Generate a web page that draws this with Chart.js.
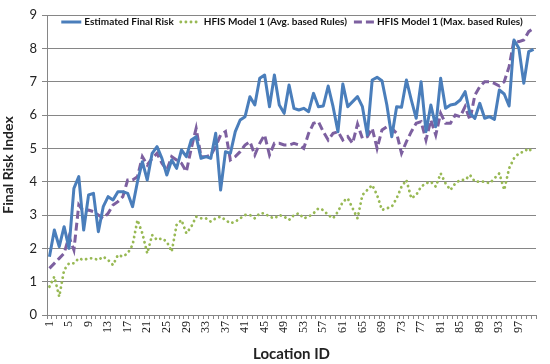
<!DOCTYPE html>
<html>
<head>
<meta charset="utf-8">
<script src="https://cdn.jsdelivr.net/npm/chart.js@4.4.1/dist/chart.umd.min.js"></script>
<style>
    html, body { margin: 0; padding: 0; background: #fff; }
    #wrap { width: 550px; height: 364px; }
</style>
</head>
<body>
<div id="wrap"><canvas id="riskChart" width="550" height="364"></canvas></div>
<script>
// Location IDs (x categories)
const locationIds = [
    '1', '2', '3', '4', '5', '6', '7', '8', '9', '10', '11', '12', '13', '14', '15', '16', '17', '18', '19', '20',
    '21', '22', '23', '24', '25', '26', '27', '28', '29', '30', '31', '32', '33', '34', '35', '36', '37', '38', '39', '40',
    '41', '42', '43', '44', '45', '46', '47', '48', '49', '50', '51', '52', '53', '54', '55', '56', '57', '58', '59', '60',
    '61', '62', '63', '64', '65', '66', '67', '68', '69', '70', '71', '72', '73', '74', '75', '76', '77', '78', '79', '80',
    '81', '82', '83', '84', '85', '86', '87', '88', '89', '90', '91', '92', '93', '94', '95', '96', '97', '98', '99', '100'
];

const estimatedRisk = [
    1.75, 2.55, 2.05, 2.65, 2.0, 3.8, 4.15, 2.55, 3.6, 3.65,
    2.5, 3.25, 3.55, 3.45, 3.7, 3.7, 3.65, 3.25, 4.0, 4.6,
    4.05, 4.85, 5.05, 4.7, 4.2, 4.65, 4.4, 4.95, 4.75, 5.25,
    5.35, 4.7, 4.75, 4.7, 5.45, 3.75, 4.9, 4.85, 5.5, 5.85,
    5.95, 6.55, 6.3, 7.1, 7.2, 6.25, 7.2, 6.3, 6.05, 6.9,
    6.2, 6.15, 6.2, 6.1, 6.65, 6.25, 6.27, 6.87, 6.25, 5.5,
    6.93, 6.25, 6.4, 6.55, 6.25, 5.4, 7.05, 7.13, 7.03, 6.3,
    5.35, 6.25, 6.23, 7.05, 6.45, 5.9, 7.0, 5.5, 6.3, 5.65,
    7.1, 6.2, 6.3, 6.33, 6.45, 6.7, 6.05, 5.9, 6.35, 5.9,
    5.95, 5.87, 6.75, 6.63, 6.27, 8.25, 8.0, 6.95, 7.9, 7.97
];

const hfisAvg = [
    0.85, 1.15, 0.55, 1.35, 1.55, 1.55, 1.7, 1.65, 1.7, 1.7,
    1.65, 1.75, 1.65, 1.5, 1.8, 1.75, 1.85, 2.1, 2.85, 2.45,
    1.85, 2.4, 2.25, 2.3, 2.2, 1.9, 2.7, 2.85, 2.45, 2.65,
    2.95, 2.9, 2.9, 2.8, 2.9, 2.95, 2.85, 2.75, 2.8, 2.9,
    3.0, 3.0, 2.9, 3.05, 3.05, 2.95, 2.9, 3.0, 2.95, 2.85,
    3.0, 3.05, 2.9, 2.95, 3.05, 3.2, 3.15, 3.0, 2.9, 3.1,
    3.4, 3.5, 3.2, 2.9, 3.6, 3.75, 3.9, 3.6, 3.15, 3.2,
    3.25, 3.5, 3.85, 4.05, 3.5, 3.6, 3.85, 3.95, 4.0, 3.85,
    4.25, 3.95, 3.75, 3.95, 4.05, 4.05, 4.2, 4.0, 4.0, 4.0,
    3.95, 4.1, 4.25, 3.75, 4.4, 4.7, 4.85, 4.9, 5.0, 4.85
];

const hfisMax = [
    1.4, 1.55, 1.7, 1.85, 2.35, 1.95, 3.3, 3.1, 3.15, 3.1,
    3.0, 2.9, 3.05, 3.3, 3.4, 3.55, 4.05, 4.05, 4.15, 4.75,
    4.5, 4.7, 4.85, 4.55, 4.35, 4.75, 4.65, 4.55, 4.3, 5.0,
    5.6, 4.75, 4.75, 4.8, 5.05, 5.4, 5.5, 4.65, 4.75, 4.9,
    5.1, 5.2, 4.8, 5.15, 5.4, 4.8, 5.15, 5.15, 5.1, 5.1,
    5.15, 5.1, 5.0, 5.45, 5.75, 5.8, 5.5, 5.25, 5.45, 5.5,
    5.25, 5.35, 5.15, 5.73, 5.3, 5.35, 5.6, 5.0, 5.55, 5.65,
    5.6, 5.45, 4.85, 5.2, 5.5, 5.75, 5.8, 5.25, 5.85, 5.4,
    6.05, 5.75, 5.75, 6.0, 5.95, 6.25, 5.85, 6.6, 6.85, 7.0,
    7.0, 6.95, 6.87, 7.0, 7.45, 8.25, 8.2, 8.25, 8.5, 8.6
];

const seriesNames = [
    'Estimated Final Risk',
    'HFIS Model 1 (Avg. based Rules)',
    'HFIS Model 1 (Max. based Rules)'
];

const yTicks = [0, 1, 2, 3, 4, 5, 6, 7, 8, 9];

// Legend drawn inside the plot, centred along the top
const insideLegend = {
    id: 'insideLegend',
    afterDraw(chart) {
        const ctx = chart.ctx;
        const area = chart.chartArea;
        const sample = 22, textGap = 2, itemGap = 6;
        ctx.save();
        ctx.font = 'bold 10px Lato';
        const items = chart.data.datasets.map(ds => ({
            ds,
            w: sample + textGap + ctx.measureText(ds.label).width
        }));
        const total = items.reduce((a, it) => a + it.w, 0) + itemGap * (items.length - 1);
        let x = (area.left + area.right) / 2 - total / 2;
        const y = area.top + 7;
        items.forEach(it => {
            ctx.strokeStyle = it.ds.borderColor;
            ctx.lineWidth = it.ds.borderWidth;
            ctx.lineCap = it.ds.borderCapStyle || 'butt';
            ctx.setLineDash(it.ds.borderDash || []);
            ctx.beginPath();
            ctx.moveTo(x + 1, y);
            ctx.lineTo(x + sample - 1, y);
            ctx.stroke();
            ctx.setLineDash([]);
            ctx.fillStyle = '#111';
            ctx.textBaseline = 'middle';
            ctx.textAlign = 'left';
            ctx.fillText(it.ds.label, x + sample + textGap, y);
            x += it.w + itemGap;
        });
        ctx.restore();
    }
};

const ctx = document.getElementById('riskChart').getContext('2d');
new Chart(ctx, {
    type: 'line',
    data: {
        labels: locationIds,
        datasets: [{
            label: seriesNames[0],
            data: estimatedRisk,
            borderColor: '#4A7EBB',
            borderWidth: 3,
            borderJoinStyle: 'round',
            pointRadius: 0,
            tension: 0,
            fill: false
        }, {
            label: seriesNames[1],
            data: hfisAvg,
            borderColor: '#98B954',
            borderWidth: 2.8,
            borderCapStyle: 'round',
            borderDash: [0.1, 5],
            pointRadius: 0,
            tension: 0,
            fill: false
        }, {
            label: seriesNames[2],
            data: hfisMax,
            borderColor: '#7D60A0',
            borderWidth: 3,
            borderDash: [8, 4],
            pointRadius: 0,
            tension: 0,
            fill: false
        }]
    },
    options: {
        responsive: false,
        animation: false,
        layout: { padding: { top: 15, right: 7, left: 0, bottom: 0 } },
        plugins: {
            legend: { display: false },
            tooltip: { enabled: false }
        },
        scales: {
            x: {
                offset: true,
                grid: { offset: true, drawOnChartArea: false, tickLength: 4, color: '#868686' },
                border: { color: '#868686' },
                ticks: {
                    autoSkip: false,
                    maxRotation: 90,
                    minRotation: 90,
                    padding: 2,
                    color: '#222',
                    font: { family: 'Liberation Serif', size: 12 },
                    callback: (v, i) => (i % 4 === 0 ? locationIds[i] : '')
                },
                title: {
                    display: true,
                    text: 'Location ID',
                    color: '#222',
                    font: { family: 'Lato', weight: 'bold', size: 15 },
                    padding: { top: 0, bottom: 1 }
                },
                afterFit: s => { s.height = 49; }
            },
            y: {
                min: 0,
                max: 9,
                afterBuildTicks: s => { s.ticks = yTicks.map(v => ({ value: v })); },
                grid: { color: '#868686', tickLength: 5 },
                border: { color: '#868686' },
                ticks: {
                    color: '#222',
                    padding: 5,
                    font: { family: 'Lato', size: 13 }
                },
                title: {
                    display: true,
                    text: 'Final Risk Index',
                    color: '#222',
                    font: { family: 'Lato', weight: 'bold', size: 14 },
                    padding: { top: 0, bottom: 0 }
                },
                afterFit: s => { s.width = 47; }
            }
        }
    },
    plugins: [insideLegend]
});
</script>
</body>
</html>
